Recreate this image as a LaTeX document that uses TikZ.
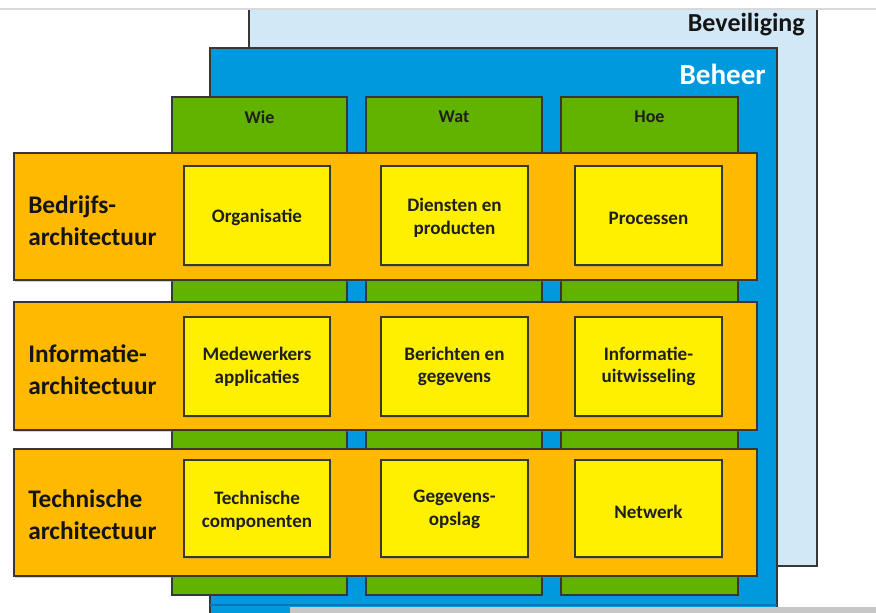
\documentclass[tikz,border=0pt]{standalone}
\usepackage{fontspec}
\setmainfont{Carlito}
\usetikzlibrary{fit,shadows}
\definecolor{bevblue}{RGB}{210,232,247}
\definecolor{behblue}{RGB}{0,153,222}
\definecolor{behdark}{RGB}{0,120,185}
\definecolor{colgreen}{RGB}{98,178,0}
\definecolor{roworange}{RGB}{255,186,0}
\definecolor{cellyellow}{RGB}{255,240,0}
\definecolor{edge}{RGB}{55,55,55}
\tikzset{
  area/.style={inner sep=0pt, outer sep=0pt, draw=edge, line width=0.8pt},
  bevbox/.style={inner sep=0pt, outer sep=0pt, fill=bevblue},
  behbox/.style={area, fill=behblue},
  colbox/.style={area, fill=colgreen},
  rowbox/.style={area, fill=roworange, drop shadow={shadow xshift=1pt, shadow yshift=-1.5pt, opacity=0.35}},
  cellbox/.style={area, fill=cellyellow, drop shadow={shadow xshift=1pt, shadow yshift=-1.5pt, opacity=0.35}},
  celltext/.style={font=\bfseries\fontsize{14.3}{17}\selectfont, align=center, text=black!88},
  coltext/.style={font=\bfseries\fontsize{13.5}{15}\selectfont, text=black!88},
  rowtext/.style={font=\bfseries\fontsize{19}{24}\selectfont, align=left, anchor=west, inner sep=0pt, text=black!92},
}
\begin{document}
\begin{tikzpicture}[x=0.75pt, y=-0.75pt]
\useasboundingbox (0,0) rectangle (876,613);
\fill[white] (0,0) rectangle (876,613);
% top line
\coordinate (tl) at (0,9);
\coordinate (tr) at (876,9);
\draw[black!15, line width=1.2pt] (tl) -- (tr);
% Beveiliging
\node[bevbox, fit={(249,10)(817,566)}] (bev) {};
\draw[edge, line width=0.8pt] (bev.north west) -- (bev.south west) -- (bev.south east) -- (bev.north east);
\node[font=\bfseries\fontsize{19.5}{21}\selectfont, anchor=east, inner sep=0pt, text=black!92] (bevt) at (805,25) {Beveiliging};
% Beheer
\node[behbox, fit={(210,48)(777,625)}] (beh) {};
\node[font=\bfseries\fontsize{21.8}{23}\selectfont, anchor=east, inner sep=0pt, text=white] (beht) at (766,74) {Beheer};
% bottom strips
\coordinate (bl) at (210,605);
\coordinate (br) at (777,605);
\draw[behdark, line width=2pt] (bl) -- (br);
\fill[black!22] (290,607) rectangle (876,614);
% Columns
\node[colbox, fit={(172,97)(347,595)}] (c1) {};
\node[colbox, fit={(366,97)(542,595)}] (c2) {};
\node[colbox, fit={(561,97)(738,595)}] (c3) {};
\node[coltext] (c1t) at (259.5,117) {Wie};
\node[coltext] (c2t) at (454,117) {Wat};
\node[coltext] (c3t) at (649.5,117) {Hoe};
% Rows
\node[rowbox, fit={(14,153)(757,280)}] (r1) {};
\node[rowbox, fit={(14,302)(757,430)}] (r2) {};
\node[rowbox, fit={(14,449)(757,576)}] (r3) {};
\node[rowtext] (r1t) at (28,221) {Bedrijfs-\\architectuur};
\node[rowtext] (r2t) at (28,370) {Informatie-\\architectuur};
\node[rowtext] (r3t) at (28,515) {Technische\\architectuur};
% Cells row 1
\node[cellbox, fit={(184,166)(330,265)}] (y11) {};
\node[cellbox, fit={(381,166)(528,265)}] (y12) {};
\node[cellbox, fit={(575,166)(722,265)}] (y13) {};
% Cells row 2
\node[cellbox, fit={(184,317)(330,416)}] (y21) {};
\node[cellbox, fit={(381,317)(528,416)}] (y22) {};
\node[cellbox, fit={(575,317)(722,416)}] (y23) {};
% Cells row 3
\node[cellbox, fit={(184,460)(330,557)}] (y31) {};
\node[cellbox, fit={(381,460)(528,557)}] (y32) {};
\node[cellbox, fit={(575,460)(722,557)}] (y33) {};
% Cell texts
\node[celltext] (t11) at ([yshift=-1.2pt]y11.center) {Organisatie};
\node[celltext] (t12) at ([yshift=-1.9pt]y12.center) {Diensten en\\producten};
\node[celltext] (t13) at ([yshift=-1.9pt]y13.center) {Processen};
\node[celltext] (t21) at (y21.center) {Medewerkers\\applicaties};
\node[celltext] (t22) at (y22.center) {Berichten en\\gegevens};
\node[celltext] (t23) at (y23.center) {Informatie-\\uitwisseling};
\node[celltext] (t31) at ([yshift=-1.9pt]y31.center) {Technische\\componenten};
\node[celltext] (t32) at ([yshift=-0.5pt]y32.center) {Gegevens-\\opslag};
\node[celltext] (t33) at ([yshift=-2.2pt]y33.center) {Netwerk};
\end{tikzpicture}
\end{document}
